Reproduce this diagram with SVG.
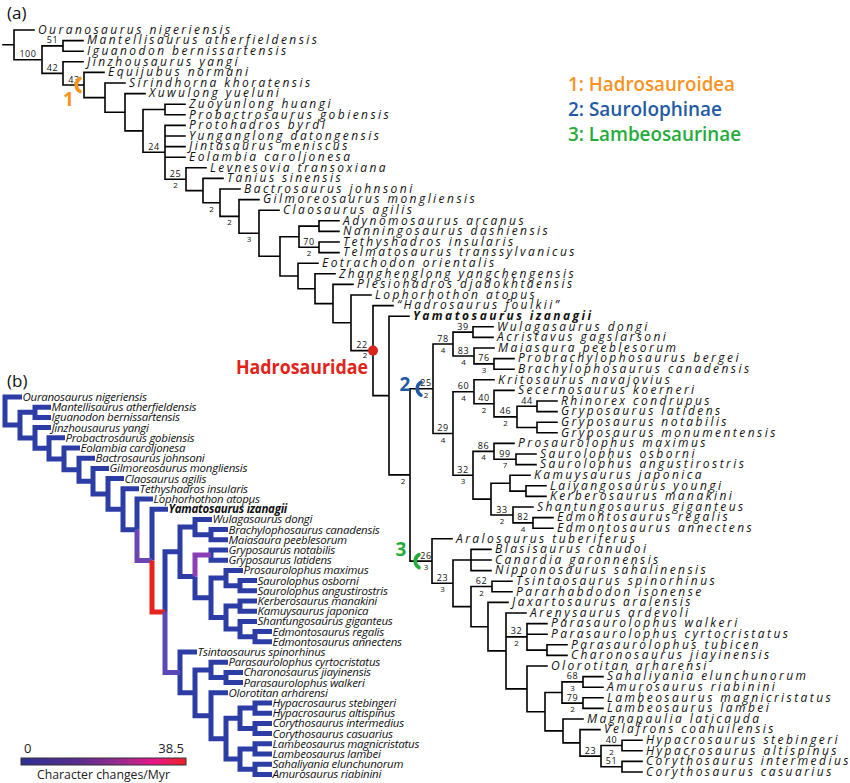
<svg xmlns="http://www.w3.org/2000/svg" width="850" height="783" viewBox="0 0 850 783">
<defs>
<linearGradient id="rate" x1="0" y1="0" x2="1" y2="0">
<stop offset="0" stop-color="#2e3192"/>
<stop offset="0.35" stop-color="#5b2d90"/>
<stop offset="0.6" stop-color="#9a2a8f"/>
<stop offset="0.8" stop-color="#e4168a"/>
<stop offset="1" stop-color="#ed2224"/>
</linearGradient>
<style>
.ab{fill:none;stroke:#000;stroke-width:1.6;stroke-linecap:square}
.lf{font-family:"Open Sans","DejaVu Sans",sans-serif;font-style:italic;font-size:12px;letter-spacing:2.45px;fill:#111}
.bo{font-weight:bold}
.sv{font-family:"Open Sans","DejaVu Sans",sans-serif;font-size:9px;letter-spacing:0.6px;text-anchor:middle;fill:#111}
.bv{font-family:"Open Sans","DejaVu Sans",sans-serif;font-size:8px;text-anchor:middle;fill:#111}
.bb{fill:none;stroke:#2d3da6;stroke-width:5;stroke-linejoin:miter}
.lb{font-family:"Open Sans","DejaVu Sans",sans-serif;font-style:italic;font-size:11.5px;letter-spacing:-0.25px;fill:#111}
.ttl{font-family:"Open Sans","DejaVu Sans",sans-serif;font-size:17px;fill:#111}
.lg{font-family:"Open Sans","DejaVu Sans",sans-serif;font-weight:600;font-size:19px}
.mk{font-family:"Open Sans","DejaVu Sans",sans-serif;font-weight:bold;font-size:19px;text-anchor:middle}
.arc{fill:none;stroke-width:3.6;stroke-linecap:round}
.cb{font-family:"Open Sans","DejaVu Sans",sans-serif;font-size:13px;fill:#222}
</style>
</defs>
<rect width="850" height="783" fill="#fff"/>

<g id="titles">
<text class="ttl" x="7" y="19">(a)</text>
<text class="ttl" x="7" y="387">(b)</text>
</g>

<g id="legend">
<text class="lg" x="568" y="91" fill="#f7931e" textLength="167" lengthAdjust="spacingAndGlyphs">1: Hadrosauroidea</text>
<text class="lg" x="568" y="115.5" fill="#1f5aa6" textLength="154" lengthAdjust="spacingAndGlyphs">2: Saurolophinae</text>
<text class="lg" x="568" y="140.5" fill="#25ab3a" textLength="173" lengthAdjust="spacingAndGlyphs">3: Lambeosaurinae</text>
</g>

<g id="connectors-a">
<path class="ab" d="M3 44.8H14M14 30V59.7M14 30H34M14 59.7H42
M42 45.9V73.4M42 45.9H63M42 73.4H63
M63 40.6V51.2M63 40.6H83M63 51.2H83
M63 61.8V85M63 61.8H83M63 85H84
M84 72.4V97.6M84 72.4H104M84 97.6H105
M105 83V112.3M105 83H125M105 112.3H125
M125 93.6V130.9M125 93.6H145M125 130.9H143
M143 109.5V152.3M143 109.5H165M143 152.3H165
M165 104.2V114.8M165 104.2H185M165 114.8H185
M165 125.4V179.2M165 125.4H185M165 136H185M165 146.6H185M165 157.2H185M165 179.2H186
M186 167.8V190.6M186 167.8H206M186 190.6H203
M203 178.4V202.7M203 178.4H223M203 202.7H220
M220 189V216.4M220 189H240M220 216.4H239
M239 199.6V233.3M239 199.6H259M239 233.3H259
M259 210.2V256.3M259 210.2H279M259 256.3H280
M280 236.7V276M280 236.7H299M280 276H298
M299 226.1V247.3M299 226.1H319M299 247.3H319
M319 220.8V231.4M319 220.8H339M319 231.4H339
M319 242V252.6M319 242H339M319 252.6H339
M298 263.2V288.7M298 263.2H318M298 288.7H315
M315 273.8V303.6M315 273.8H335M315 303.6H333
M333 284.4V322.8M333 284.4H353M333 322.8H351
M351 295V350.6M351 295H371M351 350.6H373
M373 305.6V395.6M373 305.6H393M373 395.6H389
M389 316.2V474.9M389 316.2H409M389 474.9H410
M410 388.7V561.1M410 388.7H433M410 561.1H432
M433 344V433.5M433 344H453M433 433.5H453
M453 332.1V356M453 332.1H473M453 356H474
M473 326.8V337.4M473 326.8H493M473 337.4H493
M474 348V363.9M474 348H494M474 363.9H494
M494 358.6V369.2M494 358.6H514M494 369.2H514
M453 391.7V475.2M453 391.7H474M453 475.2H473
M474 379.8V403.7M474 379.8H494M474 403.7H494
M494 390.4V416.9M494 390.4H514M494 416.9H517
M517 406.3V427.5M517 406.3H537M517 427.5H537
M537 401V411.6M537 401H557M537 411.6H557
M537 422.2V432.8M537 422.2H557M537 432.8H557
M473 451.4V499.1M473 451.4H494M473 499.1H491
M494 443.4V459.3M494 443.4H514M494 459.3H516
M516 454V464.6M516 454H536M516 464.6H536
M491 483.2V515M491 483.2H510M491 515H513
M510 475.2V491.1M510 475.2H530M510 491.1H526
M526 485.8V496.4M526 485.8H546M526 496.4H546
M513 507V522.9M513 507H533M513 522.9H533
M533 517.6V528.2M533 517.6H553M533 528.2H553
M432 538.8V583.3M432 538.8H452M432 583.3H453
M453 560V606.6M453 560H471M453 606.6H471
M471 549.4V570.6M471 549.4H491M471 560H491M471 570.6H491
M471 586.5V626.7M471 586.5H492M471 626.7H488
M492 581.2V591.8M492 581.2H512M492 591.8H512
M488 602.4V650.9M488 602.4H508M488 650.9H506
M506 613V688.9M506 613H526M506 636.9H527M506 688.9H527
M527 623.6V650.1M527 623.6H547M527 634.2H547M527 650.1H547
M547 644.8V655.4M547 644.8H567M547 655.4H567
M527 666V711.7M527 666H547M527 711.7H545
M545 692.5V730.9M545 692.5H562M545 730.9H563
M562 681.9V703.1M562 681.9H583M562 703.1H583
M583 676.6V687.2M583 676.6H603M583 687.2H603
M583 697.8V708.4M583 697.8H603M583 708.4H603
M563 719V742.9M563 719H583M563 742.9H580
M580 729.6V756.1M580 729.6H600M580 756.1H601
M601 745.5V766.7M601 745.5H622M601 766.7H622
M622 740.2V750.8M622 740.2H642M622 750.8H642
M622 761.4V772M622 761.4H642M622 772H642"/>
</g>

<g id="support-a">
<text class="sv" x="28" y="57">100</text>
<text class="sv" x="52.5" y="43.4">51</text>
<text class="sv" x="52.5" y="70.9">42</text>
<text class="sv" x="74" y="82.5">43</text>
<text class="sv" x="154" y="149.8">24</text>
<text class="sv" x="175.5" y="176.7">25</text><text class="bv" x="175.5" y="188.2">2</text>
<text class="bv" x="211.5" y="211.7">2</text>
<text class="bv" x="229.5" y="225.4">2</text>
<text class="bv" x="249" y="242.3">3</text>
<text class="sv" x="309" y="244.8">70</text><text class="bv" x="309" y="256.3">2</text>
<text class="sv" x="362" y="348.1">22</text><text class="bv" x="365" y="357.5">2</text>
<text class="bv" x="403" y="483.9">2</text>
<text class="sv" x="426" y="386.2">25</text><text class="bv" x="426" y="397.7">2</text>
<text class="sv" x="426" y="558.6">26</text><text class="bv" x="426" y="570.1">3</text>
<text class="sv" x="443" y="341.5">78</text><text class="bv" x="443" y="353">4</text>
<text class="sv" x="463" y="329.6">39</text>
<text class="sv" x="463.5" y="353.5">83</text><text class="bv" x="463.5" y="365">4</text>
<text class="sv" x="484" y="361.4">76</text><text class="bv" x="484" y="372.9">3</text>
<text class="sv" x="443" y="431">29</text><text class="bv" x="443" y="442.5">4</text>
<text class="sv" x="463.5" y="389.2">60</text><text class="bv" x="463.5" y="400.7">4</text>
<text class="sv" x="484" y="401.2">40</text><text class="bv" x="484" y="412.7">2</text>
<text class="sv" x="505.5" y="414.4">46</text><text class="bv" x="505.5" y="425.9">2</text>
<text class="sv" x="527" y="403.8">44</text>
<text class="sv" x="463" y="472.7">32</text><text class="bv" x="463" y="484.2">3</text>
<text class="sv" x="483.5" y="448.9">86</text><text class="bv" x="483.5" y="460.4">4</text>
<text class="sv" x="505" y="456.8">99</text><text class="bv" x="505" y="468.3">7</text>
<text class="sv" x="502" y="512.5">33</text><text class="bv" x="502" y="524">2</text>
<text class="sv" x="523" y="520.4">82</text><text class="bv" x="523" y="531.9">4</text>
<text class="sv" x="442.5" y="580.8">23</text><text class="bv" x="442.5" y="592.3">3</text>
<text class="sv" x="481.5" y="584">62</text><text class="bv" x="481.5" y="595.5">2</text>
<text class="sv" x="516.5" y="634.4">32</text><text class="bv" x="516.5" y="645.9">2</text>
<text class="sv" x="572.5" y="679.4">68</text><text class="bv" x="572.5" y="690.9">3</text>
<text class="sv" x="572.5" y="700.6">79</text><text class="bv" x="572.5" y="712.1">2</text>
<text class="sv" x="590.5" y="753.6">23</text>
<text class="sv" x="611.5" y="743">40</text><text class="bv" x="611.5" y="754.5">2</text>
<text class="sv" x="611.5" y="764.2">51</text>
</g>

<g id="clade-markers">
<g id="marker-1"><path class="arc" d="M80 78.5A7.5 7.5 0 0 0 80 91.5" stroke="#f7931e"/><text class="mk" x="68.5" y="106" fill="#f7931e">1</text></g>
<g id="marker-2"><path class="arc" d="M421 382.2A7.5 7.5 0 0 0 421 395.2" stroke="#1f5aa6"/><text class="mk" x="405" y="391" fill="#1f5aa6">2</text></g>
<g id="marker-3"><path class="arc" d="M419 554.6A7.5 7.5 0 0 0 419 567.6" stroke="#25ab3a"/><text class="mk" x="401" y="556" fill="#25ab3a">3</text></g>
<g id="hadrosauridae"><circle cx="373" cy="350.6" r="5" fill="#d9261c"/><text x="236" y="374" font-family="Open Sans, DejaVu Sans, sans-serif" font-weight="bold" font-size="19" fill="#e2231a" textLength="132" lengthAdjust="spacingAndGlyphs">Hadrosauridae</text></g>
</g>

<g id="leaves-a">
<g id="a-ouranosaurus"><text class="lf" x="38" y="33.8">Ouranosaurus nigeriensis</text></g>
<g id="a-mantellisaurus"><text class="lf" x="87" y="44.4">Mantellisaurus atherfieldensis</text></g>
<g id="a-iguanodon"><text class="lf" x="87" y="55">Iguanodon bernissartensis</text></g>
<g id="a-jinzhousaurus"><text class="lf" x="87" y="65.6">Jinzhousaurus yangi</text></g>
<g id="a-equijubus"><text class="lf" x="108" y="76.2">Equijubus normani</text></g>
<g id="a-sirindhorna"><text class="lf" x="129" y="86.8">Sirindhorna khoratensis</text></g>
<g id="a-xuwulong"><text class="lf" x="149" y="97.4">Xuwulong yueluni</text></g>
<g id="a-zuoyunlong"><text class="lf" x="189" y="108">Zuoyunlong huangi</text></g>
<g id="a-probactrosaurus"><text class="lf" x="189" y="118.6">Probactrosaurus gobiensis</text></g>
<g id="a-protohadros"><text class="lf" x="189" y="129.2">Protohadros byrdi</text></g>
<g id="a-yunganglong"><text class="lf" x="189" y="139.8">Yunganglong datongensis</text></g>
<g id="a-jintasaurus"><text class="lf" x="189" y="150.4">Jintasaurus meniscus</text></g>
<g id="a-eolambia"><text class="lf" x="189" y="161">Eolambia caroljonesa</text></g>
<g id="a-levnesovia"><text class="lf" x="210" y="171.6">Levnesovia transoxiana</text></g>
<g id="a-tanius"><text class="lf" x="227" y="182.2">Tanius sinensis</text></g>
<g id="a-bactrosaurus"><text class="lf" x="244" y="192.8">Bactrosaurus johnsoni</text></g>
<g id="a-gilmoreosaurus"><text class="lf" x="263" y="203.4">Gilmoreosaurus mongliensis</text></g>
<g id="a-claosaurus"><text class="lf" x="283" y="214">Claosaurus agilis</text></g>
<g id="a-adynomosaurus"><text class="lf" x="343" y="224.6">Adynomosaurus arcanus</text></g>
<g id="a-nanningosaurus"><text class="lf" x="343" y="235.2">Nanningosaurus dashiensis</text></g>
<g id="a-tethyshadros"><text class="lf" x="343" y="245.8">Tethyshadros insularis</text></g>
<g id="a-telmatosaurus"><text class="lf" x="343" y="256.4">Telmatosaurus transsylvanicus</text></g>
<g id="a-eotrachodon"><text class="lf" x="322" y="267">Eotrachodon orientalis</text></g>
<g id="a-zhanghenglong"><text class="lf" x="339" y="277.6">Zhanghenglong yangchengensis</text></g>
<g id="a-plesiohadros"><text class="lf" x="357" y="288.2">Plesiohadros djadokhtaensis</text></g>
<g id="a-lophorhothon"><text class="lf" x="375" y="298.8">Lophorhothon atopus</text></g>
<g id="a-hadrosaurus"><text class="lf" x="397" y="309.4">“Hadrosaurus foulkii”</text></g>
<g id="a-yamatosaurus"><text class="lf bo" x="413" y="320">Yamatosaurus izanagii</text></g>
<g id="a-wulagasaurus"><text class="lf" x="497" y="330.6">Wulagasaurus dongi</text></g>
<g id="a-acristavus"><text class="lf" x="497" y="341.2">Acristavus gagslarsoni</text></g>
<g id="a-maiasaura"><text class="lf" x="498" y="351.8">Maiasaura peeblesorum</text></g>
<g id="a-probrachylophosaurus"><text class="lf" x="518" y="362.4">Probrachylophosaurus bergei</text></g>
<g id="a-brachylophosaurus"><text class="lf" x="518" y="373">Brachylophosaurus canadensis</text></g>
<g id="a-kritosaurus"><text class="lf" x="498" y="383.6">Kritosaurus navajovius</text></g>
<g id="a-secernosaurus"><text class="lf" x="518" y="394.2">Secernosaurus koerneri</text></g>
<g id="a-rhinorex"><text class="lf" x="561" y="404.8">Rhinorex condrupus</text></g>
<g id="a-gryposaurus-latidens"><text class="lf" x="561" y="415.4">Gryposaurus latidens</text></g>
<g id="a-gryposaurus-notabilis"><text class="lf" x="561" y="426">Gryposaurus notabilis</text></g>
<g id="a-gryposaurus-monumentensis"><text class="lf" x="561" y="436.6">Gryposaurus monumentensis</text></g>
<g id="a-prosaurolophus"><text class="lf" x="518" y="447.2">Prosaurolophus maximus</text></g>
<g id="a-saurolophus-osborni"><text class="lf" x="540" y="457.8">Saurolophus osborni</text></g>
<g id="a-saurolophus-angustirostris"><text class="lf" x="540" y="468.4">Saurolophus angustirostris</text></g>
<g id="a-kamuysaurus"><text class="lf" x="534" y="479">Kamuysaurus japonica</text></g>
<g id="a-laiyangosaurus"><text class="lf" x="550" y="489.6">Laiyangosaurus youngi</text></g>
<g id="a-kerberosaurus"><text class="lf" x="550" y="500.2">Kerberosaurus manakini</text></g>
<g id="a-shantungosaurus"><text class="lf" x="537" y="510.8">Shantungosaurus giganteus</text></g>
<g id="a-edmontosaurus-regalis"><text class="lf" x="557" y="521.4">Edmontosaurus regalis</text></g>
<g id="a-edmontosaurus-annectens"><text class="lf" x="557" y="532">Edmontosaurus annectens</text></g>
<g id="a-aralosaurus"><text class="lf" x="456" y="542.6">Aralosaurus tuberiferus</text></g>
<g id="a-blasisaurus"><text class="lf" x="495" y="553.2">Blasisaurus canudoi</text></g>
<g id="a-canardia"><text class="lf" x="495" y="563.8">Canardia garonnensis</text></g>
<g id="a-nipponosaurus"><text class="lf" x="495" y="574.4">Nipponosaurus sahalinensis</text></g>
<g id="a-tsintaosaurus"><text class="lf" x="516" y="585">Tsintaosaurus spinorhinus</text></g>
<g id="a-pararhabdodon"><text class="lf" x="516" y="595.6">Pararhabdodon isonense</text></g>
<g id="a-jaxartosaurus"><text class="lf" x="512" y="606.2">Jaxartosaurus aralensis</text></g>
<g id="a-arenysaurus"><text class="lf" x="530" y="616.8">Arenysaurus ardevoli</text></g>
<g id="a-parasaurolophus-walkeri"><text class="lf" x="551" y="627.4">Parasaurolophus walkeri</text></g>
<g id="a-parasaurolophus-cyrtocristatus"><text class="lf" x="551" y="638">Parasaurolophus cyrtocristatus</text></g>
<g id="a-parasaurolophus-tubicen"><text class="lf" x="571" y="648.6">Parasaurolophus tubicen</text></g>
<g id="a-charonosaurus"><text class="lf" x="571" y="659.2">Charonosaurus jiayinensis</text></g>
<g id="a-olorotitan"><text class="lf" x="551" y="669.8">Olorotitan arharensi</text></g>
<g id="a-sahaliyania"><text class="lf" x="607" y="680.4">Sahaliyania elunchunorum</text></g>
<g id="a-amurosaurus"><text class="lf" x="607" y="691">Amurosaurus riabinini</text></g>
<g id="a-lambeosaurus-magnicristatus"><text class="lf" x="607" y="701.6">Lambeosaurus magnicristatus</text></g>
<g id="a-lambeosaurus-lambei"><text class="lf" x="607" y="712.2">Lambeosaurus lambei</text></g>
<g id="a-magnapaulia"><text class="lf" x="587" y="722.8">Magnapaulia laticauda</text></g>
<g id="a-velafrons"><text class="lf" x="604" y="733.4">Velafrons coahuilensis</text></g>
<g id="a-hypacrosaurus-stebingeri"><text class="lf" x="646" y="744">Hypacrosaurus stebingeri</text></g>
<g id="a-hypacrosaurus-altispinus"><text class="lf" x="646" y="754.6">Hypacrosaurus altispinus</text></g>
<g id="a-corythosaurus-intermedius"><text class="lf" x="646" y="765.2">Corythosaurus intermedius</text></g>
<g id="a-corythosaurus-casuarius"><text class="lf" x="646" y="775.8">Corythosaurus casuarius</text></g>
</g>

<g id="connectors-b">
<path class="bb" d="M5 411V397H22M5 411V425.1H20
M20 425.1V412.3H35M20 425.1V438H35
M35 412.3V407.2H51M35 412.3V417.4H51
M35 438V427.6H51M35 438V448.3H49
M49 448.3V437.8H65M49 448.3V458.9H64
M64 458.9V448H80M64 458.9V469.7H79
M79 469.7V458.2H95M79 469.7V481.2H93
M93 481.2V468.4H109M93 481.2V494H108
M108 494V478.6H124M108 494V509.3H123
M123 509.3V488.8H139M123 509.3V529.8H137
M137 529.8V499H153
M152 560.6V509.2H168
M165 612.1V551.8H180
M180 551.8V527H195M180 551.8V576.5H195
M195 527V519.4H212M195 527V534.7H211
M211 534.7V529.6H228M211 534.7V539.8H228
M195 576.5V597.8H211
M211 555.1V550H228M211 555.1V560.2H228
M211 597.8V578H226M211 597.8V617.6H226
M226 578V570.4H243M226 578V585.7H240
M240 585.7V580.6H257M240 585.7V590.8H257
M226 617.6V606.1H240M226 617.6V629H240
M240 606.1V601H257M240 606.1V611.2H257
M240 629V621.4H257M240 629V636.7H255
M255 636.7V631.6H272M255 636.7V641.8H272
M180 672.4V652H197M180 672.4V692.8H195
M195 692.8V669.9H211M195 692.8V715.8H211
M211 669.9V662.2H228M211 669.9V677.5H226
M226 677.5V672.4H243M226 677.5V682.6H243
M211 715.8V692.8H228M211 715.8V738.7H226
M226 738.7V718.3H240M226 738.7V759.1H240
M240 718.3V708.1H255M240 718.3V728.5H255
M255 708.1V703H272M255 708.1V713.2H272
M255 728.5V723.4H272M255 728.5V733.6H272
M240 759.1V748.9H255M240 759.1V769.3H255
M255 748.9V743.8H272M255 748.9V754H272
M255 769.3V764.2H272M255 769.3V774.4H272"/>
<path class="bb" style="stroke:#6a45b3" d="M137 529.8V560.6H152"/>
<path class="bb" style="stroke:#e8231f" d="M152 560.6V612.1H165"/>
<path class="bb" style="stroke:#5a48b6" d="M165 612.1V672.4H180"/>
<path class="bb" style="stroke:#8b3fb6" d="M195 576.5V555.1H211"/>
</g>

<g id="leaves-b">
<g id="b-ouranosaurus"><text class="lb" x="22.5" y="401">Ouranosaurus nigeriensis</text></g>
<g id="b-mantellisaurus"><text class="lb" x="51.5" y="411.2">Mantellisaurus atherfieldensis</text></g>
<g id="b-iguanodon"><text class="lb" x="51.5" y="421.4">Iguanodon bernissartensis</text></g>
<g id="b-jinzhousaurus"><text class="lb" x="51.5" y="431.6">Jinzhousaurus yangi</text></g>
<g id="b-probactrosaurus"><text class="lb" x="65.5" y="441.8">Probactrosaurus gobiensis</text></g>
<g id="b-eolambia"><text class="lb" x="80.5" y="452">Eolambia caroljonesa</text></g>
<g id="b-bactrosaurus"><text class="lb" x="95.5" y="462.2">Bactrosaurus johnsoni</text></g>
<g id="b-gilmoreosaurus"><text class="lb" x="109.5" y="472.4">Gilmoreosaurus mongliensis</text></g>
<g id="b-claosaurus"><text class="lb" x="124.5" y="482.6">Claosaurus agilis</text></g>
<g id="b-tethyshadros"><text class="lb" x="139.5" y="492.8">Tethyshadros insularis</text></g>
<g id="b-lophorhothon"><text class="lb" x="153.5" y="503">Lophorhothon atopus</text></g>
<g id="b-yamatosaurus"><text class="lb bo" x="168.5" y="513.2">Yamatosaurus izanagii</text></g>
<g id="b-wulagasaurus"><text class="lb" x="212.5" y="523.4">Wulagasaurus dongi</text></g>
<g id="b-brachylophosaurus"><text class="lb" x="228.5" y="533.6">Brachylophosaurus canadensis</text></g>
<g id="b-maiasaura"><text class="lb" x="228.5" y="543.8">Maiasaura peeblesorum</text></g>
<g id="b-gryposaurus-notabilis"><text class="lb" x="228.5" y="554">Gryposaurus notabilis</text></g>
<g id="b-gryposaurus-latidens"><text class="lb" x="228.5" y="564.2">Gryposaurus latidens</text></g>
<g id="b-prosaurolophus"><text class="lb" x="243.5" y="574.4">Prosaurolophus maximus</text></g>
<g id="b-saurolophus-osborni"><text class="lb" x="257.5" y="584.6">Saurolophus osborni</text></g>
<g id="b-saurolophus-angustirostris"><text class="lb" x="257.5" y="594.8">Saurolophus angustirostris</text></g>
<g id="b-kerberosaurus"><text class="lb" x="257.5" y="605">Kerberosaurus manakini</text></g>
<g id="b-kamuysaurus"><text class="lb" x="257.5" y="615.2">Kamuysaurus japonica</text></g>
<g id="b-shantungosaurus"><text class="lb" x="257.5" y="625.4">Shantungosaurus giganteus</text></g>
<g id="b-edmontosaurus-regalis"><text class="lb" x="272.5" y="635.6">Edmontosaurus regalis</text></g>
<g id="b-edmontosaurus-annectens"><text class="lb" x="272.5" y="645.8">Edmontosaurus annectens</text></g>
<g id="b-tsintaosaurus"><text class="lb" x="197.5" y="656">Tsintaosaurus spinorhinus</text></g>
<g id="b-parasaurolophus-cyrtocristatus"><text class="lb" x="228.5" y="666.2">Parasaurolophus cyrtocristatus</text></g>
<g id="b-charonosaurus"><text class="lb" x="243.5" y="676.4">Charonosaurus jiayinensis</text></g>
<g id="b-parasaurolophus-walkeri"><text class="lb" x="243.5" y="686.6">Parasaurolophus walkeri</text></g>
<g id="b-olorotitan"><text class="lb" x="228.5" y="696.8">Olorotitan arharensi</text></g>
<g id="b-hypacrosaurus-stebingeri"><text class="lb" x="272.5" y="707">Hypacrosaurus stebingeri</text></g>
<g id="b-hypacrosaurus-altispinus"><text class="lb" x="272.5" y="717.2">Hypacrosaurus altispinus</text></g>
<g id="b-corythosaurus-intermedius"><text class="lb" x="272.5" y="727.4">Corythosaurus intermedius</text></g>
<g id="b-corythosaurus-casuarius"><text class="lb" x="272.5" y="737.6">Corythosaurus casuarius</text></g>
<g id="b-lambeosaurus-magnicristatus"><text class="lb" x="272.5" y="747.8">Lambeosaurus magnicristatus</text></g>
<g id="b-lambeosaurus-lambei"><text class="lb" x="272.5" y="758">Lambeosaurus lambei</text></g>
<g id="b-sahaliyania"><text class="lb" x="272.5" y="768.2">Sahaliyania elunchunorum</text></g>
<g id="b-amurosaurus"><text class="lb" x="272.5" y="778.4">Amurosaurus riabinini</text></g>
</g>

<g id="colorbar">
<rect x="21" y="758" width="165" height="7" fill="url(#rate)" stroke="#333" stroke-width="1"/>
<text class="cb" x="24" y="752.5">0</text>
<text class="cb" x="184" y="752.5" text-anchor="end">38.5</text>
<text class="cb" x="37" y="779" textLength="133" lengthAdjust="spacingAndGlyphs">Character changes/Myr</text>
</g>
</svg>
